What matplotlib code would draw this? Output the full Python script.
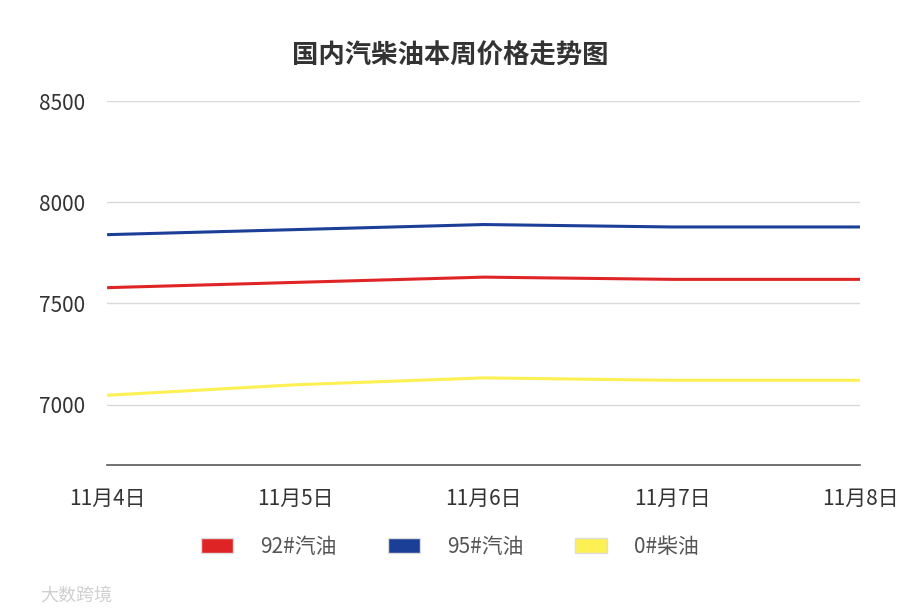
import matplotlib.pyplot as plt
from matplotlib.patches import Patch

plt.rcParams['font.family'] = ['Noto Sans CJK SC', 'DejaVu Sans']

dates = ['11月4日', '11月5日', '11月6日', '11月7日', '11月8日']
gas92 = [7578, 7604, 7630, 7619, 7619]
gas95 = [7840, 7865, 7890, 7878, 7878]
diesel0 = [7046, 7098, 7132, 7120, 7120]
names = ['92#汽油', '95#汽油', '0#柴油']
colors = ['#df2426', '#1b3e97', '#fdf052']

fig = plt.figure(figsize=(9, 6.13), dpi=100)
ax = fig.add_axes([0.119, 0.241, 0.837, 0.594])

x = range(len(dates))
for vals, c in zip([gas92, gas95, diesel0], colors):
    ax.plot(x, vals, color=c, lw=2.2, solid_capstyle='butt')

ax.set_xlim(0, len(dates) - 1)
ax.set_ylim(6700, 8500)
ax.set_yticks([7000, 7500, 8000, 8500])
ax.set_xticks(list(x))
ax.set_xticklabels(dates)
ax.grid(axis='y', color='#d9d9d9', lw=1)
ax.set_axisbelow(True)
for s in ['top', 'right', 'left']:
    ax.spines[s].set_visible(False)
ax.spines['bottom'].set_color('#595959')
ax.spines['bottom'].set_linewidth(1.2)
ax.tick_params(axis='y', length=0, pad=16, labelsize=15, labelcolor='#333333')
ax.tick_params(axis='x', length=0, pad=16, labelsize=15, labelcolor='#333333')

fig.text(0.5, 0.908, '国内汽柴油本周价格走势图', ha='center', va='center',
         fontsize=19, fontweight='bold', color='#333333')

handles = [Patch(facecolor=c, edgecolor='#dddddd') for c in colors]
fig.legend(handles, names, loc='center', bbox_to_anchor=(0.5, 0.108), ncol=3,
           frameon=False, fontsize=15, labelcolor='#555555', handlelength=1.5,
           handleheight=0.7, handletextpad=1.3, columnspacing=2.5)

fig.text(0.045, 0.028, '大数跨境', ha='left', va='center', fontsize=13, color='#d0d0d0')

fig.savefig('out.png')
